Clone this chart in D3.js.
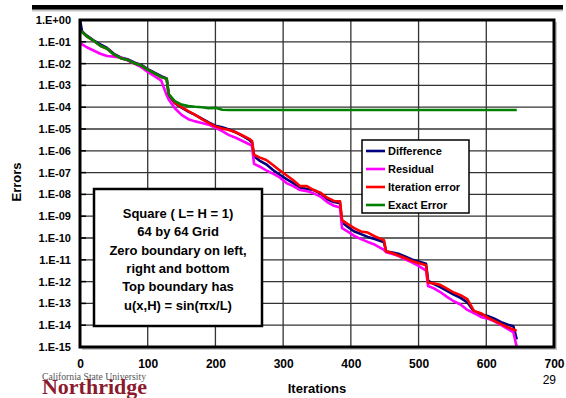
<!DOCTYPE html>
<html>
<head>
<meta charset="utf-8">
<script src="https://cdn.jsdelivr.net/npm/d3@7"></script>
<style>
  html, body { margin: 0; padding: 0; background: #fff; }
  svg { display: block; font-family: Arial, "Liberation Sans", sans-serif; }
</style>
</head>
<body>
<svg id="chart" width="566" height="398"></svg>
<script>
// iteration counts shared by all series
const iterations = [0, 3, 10, 20, 30, 40, 50, 60, 70, 80, 90, 100, 110, 120, 128, 131, 140, 150, 160, 170,
  180, 190, 200, 210, 220, 230, 240, 250, 254, 257, 265, 275, 285, 295, 305, 315, 325, 335, 345, 355,
  365, 375, 384, 387, 395, 405, 415, 425, 435, 445, 449, 452, 460, 470, 480, 490, 500, 511, 514, 522,
  532, 542, 552, 562, 572, 582, 592, 602, 612, 622, 632, 640, 645];

// log10 of each error
const differenceLog = [0.0, -0.52, -0.72, -0.93, -1.12, -1.28, -1.55, -1.72, -1.80, -1.95, -2.05, -2.25, -2.42, -2.58, -2.68, -3.45, -3.82, -4.02, -4.20, -4.35,
  -4.52, -4.70, -4.85, -4.92, -5.02, -5.15, -5.32, -5.50, -5.62, -6.25, -6.45, -6.62, -6.88, -7.10, -7.30, -7.48, -7.68, -7.75, -7.80, -7.95,
  -8.22, -8.35, -8.40, -9.28, -9.48, -9.70, -9.82, -9.95, -10.05, -10.15, -10.20, -10.62, -10.66, -10.72, -10.85, -10.98, -11.08, -11.18, -11.95, -12.10,
  -12.25, -12.42, -12.60, -12.75, -12.95, -13.38, -13.50, -13.58, -13.70, -13.86, -13.98, -14.05, -14.65];

const residualLog = [-1.05, -1.12, -1.25, -1.40, -1.55, -1.65, -1.68, -1.72, -1.85, -2.00, -2.15, -2.38, -2.58, -2.78, -3.45, -3.65, -4.05, -4.35, -4.55, -4.65,
  -4.72, -4.80, -4.95, -5.10, -5.28, -5.40, -5.55, -5.70, -5.78, -6.60, -6.72, -6.90, -7.05, -7.22, -7.48, -7.62, -7.80, -7.85, -7.95, -8.10,
  -8.35, -8.52, -8.60, -9.55, -9.70, -9.90, -10.05, -10.18, -10.30, -10.48, -10.55, -10.65, -10.72, -10.82, -10.98, -11.12, -11.28, -11.50, -12.20, -12.30,
  -12.48, -12.70, -12.90, -13.05, -13.30, -13.45, -13.62, -13.70, -13.82, -14.00, -14.18, -14.32, -15.00];

const iterationErrorLog = [-0.50, -0.55, -0.75, -0.95, -1.18, -1.32, -1.58, -1.75, -1.83, -1.98, -2.08, -2.28, -2.45, -2.62, -2.70, -3.40, -3.80, -4.00, -4.18, -4.35,
  -4.55, -4.72, -4.88, -4.98, -5.05, -5.15, -5.30, -5.45, -5.55, -6.18, -6.30, -6.42, -6.65, -6.90, -7.12, -7.35, -7.62, -7.62, -7.80, -7.92,
  -8.15, -8.30, -8.32, -9.18, -9.35, -9.55, -9.70, -9.75, -9.92, -10.05, -10.10, -10.62, -10.68, -10.80, -10.92, -11.05, -11.15, -11.25, -12.05, -12.08,
  -12.15, -12.32, -12.50, -12.62, -12.80, -13.35, -13.45, -13.65, -13.80, -13.95, -14.10, -14.20, -14.25];

const exactErrorLog = [-0.50, -0.55, -0.75, -0.95, -1.18, -1.32, -1.58, -1.75, -1.83, -1.98, -2.08, -2.28, -2.45, -2.62, -2.70, -3.40, -3.72, -3.88, -3.95, -3.98,
  -4.00, -4.05, -4.03, -4.12, -4.13, -4.13, -4.13, -4.13, -4.13, -4.13, -4.13, -4.13, -4.13, -4.13, -4.13, -4.13, -4.13, -4.13, -4.13, -4.13,
  -4.13, -4.13, -4.13, -4.13, -4.13, -4.13, -4.13, -4.13, -4.13, -4.13, -4.13, -4.13, -4.13, -4.13, -4.13, -4.13, -4.13, -4.13, -4.13, -4.13,
  -4.13, -4.13, -4.13, -4.13, -4.13, -4.13, -4.13, -4.13, -4.13, -4.13, -4.13, -4.13, -4.13];

const seriesNames = ['Difference', 'Residual', 'Iteration error', 'Exact Error'];
const seriesColors = ['#000080', '#ff00ff', '#ff0000', '#008000'];

const xTicks = [0, 100, 200, 300, 400, 500, 600, 700];
const yTickLabels = ['1.E+00', '1.E-01', '1.E-02', '1.E-03', '1.E-04', '1.E-05', '1.E-06', '1.E-07',
  '1.E-08', '1.E-09', '1.E-10', '1.E-11', '1.E-12', '1.E-13', '1.E-14', '1.E-15'];
const yTicks = yTickLabels.map(s => +s.replace('.E', 'e'));

const noteLines = ['Square ( L= H = 1)', '64 by 64 Grid', 'Zero boundary on left,',
  'right and bottom', 'Top boundary has', 'u(x,H) = sin(\u03C0x/L)'];

const svg = d3.select('#chart');
const plotL = 80, plotR = 554, plotT = 20, plotB = 347;

const x = d3.scaleLinear().domain([0, 700]).range([plotL, plotR]);
const y = d3.scaleLog().domain([1, 1e-15]).range([plotT, plotB]);

// slide header bar
svg.append('rect').attr('x', 32).attr('y', 9).attr('width', 531).attr('height', 2.5).attr('fill', '#c8c8c8');
svg.append('rect').attr('x', 32).attr('y', 5).attr('width', 531).attr('height', 4.5).attr('fill', '#000');

// plot shadow
svg.append('rect').attr('x', plotL + 2).attr('y', plotT + 2).attr('width', plotR - plotL + 1).attr('height', plotB - plotT + 1)
  .attr('fill', '#c8c8c8');
svg.append('rect').attr('x', plotL).attr('y', plotT).attr('width', plotR - plotL).attr('height', plotB - plotT)
  .attr('fill', '#fff');

// grid
svg.append('g').selectAll('line').data(yTicks).enter().append('line')
  .attr('x1', plotL).attr('x2', plotR)
  .attr('y1', d => y(d)).attr('y2', d => y(d))
  .attr('stroke', '#333').attr('stroke-width', 1.3);
svg.append('g').selectAll('line').data(xTicks).enter().append('line')
  .attr('x1', d => x(d)).attr('x2', d => x(d))
  .attr('y1', plotT).attr('y2', plotB)
  .attr('stroke', '#333').attr('stroke-width', 1.3);

// axes
const yAxis = d3.axisLeft(y).tickValues(yTicks).tickSize(0).tickPadding(9)
  .tickFormat((d, i) => yTickLabels[i]);
svg.append('g').attr('transform', `translate(${plotL},0)`).call(yAxis)
  .call(g => g.select('.domain').remove())
  .selectAll('text').attr('font-size', 11).attr('font-weight', 'bold').attr('fill', '#000')
  .attr('font-family', 'Arial, "Liberation Sans", sans-serif');

const xAxis = d3.axisBottom(x).tickValues(xTicks).tickSize(0).tickPadding(12).tickFormat(d3.format('d'));
svg.append('g').attr('transform', `translate(0,${plotB})`).call(xAxis)
  .call(g => g.select('.domain').remove())
  .selectAll('text').attr('font-size', 12).attr('font-weight', 'bold').attr('fill', '#000')
  .attr('font-family', 'Arial, "Liberation Sans", sans-serif');

// inward ticks on left axis
svg.append('g').selectAll('line').data(yTicks).enter().append('line')
  .attr('x1', plotL).attr('x2', plotL + 6)
  .attr('y1', d => y(d)).attr('y2', d => y(d))
  .attr('stroke', '#000').attr('stroke-width', 1.5);

// lines
const series = [differenceLog, residualLog, iterationErrorLog, exactErrorLog];
const line = d3.line().x(d => x(d[0])).y(d => y(d[1]));
series.forEach((vals, i) => {
  const pts = iterations.map((it, j) => [it, Math.pow(10, vals[j])]);
  svg.append('path').datum(pts)
    .attr('d', line)
    .attr('fill', 'none')
    .attr('stroke', seriesColors[i])
    .attr('stroke-width', 2.6)
    .attr('stroke-linejoin', 'round');
});

// frame
svg.append('rect').attr('x', plotL).attr('y', plotT).attr('width', plotR - plotL).attr('height', plotB - plotT)
  .attr('fill', 'none').attr('stroke', '#000').attr('stroke-width', 3);

// note box
const note = svg.append('g');
note.append('rect').attr('x', 94).attr('y', 189).attr('width', 168).attr('height', 137)
  .attr('fill', '#fff').attr('stroke', '#000').attr('stroke-width', 2.5);
note.selectAll('text').data(noteLines).enter().append('text')
  .attr('x', 178).attr('y', (d, i) => 218 + i * 18.3)
  .attr('text-anchor', 'middle').attr('font-size', 13).attr('font-weight', 'bold')
  .text(d => d);

// legend
const legend = svg.append('g');
legend.append('rect').attr('x', 362).attr('y', 140).attr('width', 107).attr('height', 73)
  .attr('fill', '#fff').attr('stroke', '#000').attr('stroke-width', 1.5);
seriesNames.forEach((name, i) => {
  const ly = 151 + i * 18;
  legend.append('line').attr('x1', 366).attr('x2', 385).attr('y1', ly).attr('y2', ly)
    .attr('stroke', seriesColors[i]).attr('stroke-width', 2.6);
  legend.append('text').attr('x', 388).attr('y', ly + 4)
    .attr('font-size', 11).attr('font-weight', 'bold').text(name);
});

// axis titles
svg.append('text').attr('x', 317).attr('y', 393).attr('text-anchor', 'middle')
  .attr('font-size', 13).attr('font-weight', 'bold').text('Iterations');
svg.append('text').attr('transform', 'translate(21,182) rotate(-90)').attr('text-anchor', 'middle')
  .attr('font-size', 13).attr('font-weight', 'bold').text('Errors');

// slide number
svg.append('text').attr('x', 556).attr('y', 384).attr('text-anchor', 'end')
  .attr('font-size', 12).text('29');

// university logo
svg.append('text').attr('x', 42).attr('y', 380).attr('font-family', '"Liberation Serif", "DejaVu Serif", serif')
  .attr('font-size', 10).attr('fill', '#555').attr('textLength', 104).attr('lengthAdjust', 'spacingAndGlyphs')
  .text('California State University');
svg.append('text').attr('x', 42).attr('y', 394).attr('font-family', '"Liberation Serif", "DejaVu Serif", serif')
  .attr('font-size', 20).attr('font-weight', 'bold').attr('fill', '#8b1a2e')
  .attr('textLength', 105).attr('lengthAdjust', 'spacingAndGlyphs')
  .text('Northridge');
</script>
</body>
</html>
